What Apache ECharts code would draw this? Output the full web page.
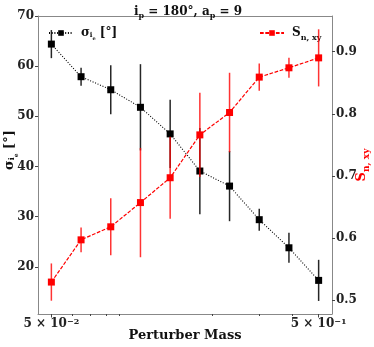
<!DOCTYPE html>
<html>
<head>
<meta charset="utf-8">
<script src="https://cdn.jsdelivr.net/npm/echarts@6/dist/echarts.min.js"></script>
<style>
  html, body { margin: 0; padding: 0; background: #fff; }
  #main { width: 374px; height: 347px; }
</style>
</head>
<body>
<div id="main"></div>
<script>
// perturber masses (log spaced)
var masses = [0.05, 0.06458, 0.0834, 0.10772, 0.13913, 0.17969, 0.23208, 0.29974, 0.38713, 0.5];
var sigmaVals = [64.4, 57.9, 55.3, 51.8, 46.5, 39.1, 36.1, 29.4, 23.8, 17.3];
var sigmaErr = [2.8, 1.8, 4.9, 8.6, 6.8, 8.6, 7.0, 2.2, 3.0, 4.1];
var snVals = [0.529, 0.597, 0.618, 0.657, 0.697, 0.766, 0.802, 0.859, 0.874, 0.890];
var snErr = [0.030, 0.020, 0.046, 0.088, 0.066, 0.068, 0.064, 0.022, 0.016, 0.046];

var xMajorTicks = [0.05, 0.5];
var xMinorTicks = [0.06, 0.07, 0.08, 0.09, 0.2, 0.3, 0.4];
var leftTicks = [20, 30, 40, 50, 60, 70];
var rightTicks = [0.5, 0.6, 0.7, 0.8, 0.9];

var xMin = 0.04456, xMax = 0.561;
var leftMin = 10.6, leftMax = 70;
var rightMin = 0.4776, rightMax = 0.9574;

var FONT = 'DejaVu Serif';
var lg = function (v) { return Math.log10(v); };

function pts(vals) {
  return vals.map(function (v, i) { return [lg(masses[i]), v]; });
}
function bars(vals, errs) {
  return vals.map(function (v, i) { return [lg(masses[i]), v - errs[i], v + errs[i]]; });
}

function errBar(color) {
  return function (params, api) {
    var a = api.coord([api.value(0), api.value(1)]);
    var b = api.coord([api.value(0), api.value(2)]);
    return {
      type: 'line',
      shape: { x1: a[0], y1: a[1], x2: b[0], y2: b[1] },
      style: { stroke: color, lineWidth: 1.5 }
    };
  };
}

function richSet(size, color) {
  return {
    b: { fontFamily: FONT, fontWeight: 'bold', fontSize: size, lineHeight: size + 5, color: color },
    i: { fontFamily: FONT, fontWeight: 'bold', fontSize: size - 5, verticalAlign: 'bottom', padding: [0, 0, 3, 0], color: color },
    e: { fontFamily: FONT, fontWeight: 'bold', fontSize: size - 7, verticalAlign: 'bottom', color: color },
    sub: { fontFamily: FONT, fontWeight: 'bold', fontSize: size - 4, verticalAlign: 'bottom', color: color }
  };
}

var chart = echarts.init(document.getElementById('main'));

var option = {
  animation: false,
  title: {
    text: '{b|i}{sub|p}{b| = 180°, a}{sub|p}{b| = 9}',
    left: 183,
    top: -2,
    textAlign: 'center',
    textStyle: { rich: richSet(12, '#111') }
  },
  grid: {
    left: 38, right: 42, top: 16, bottom: 33,
    outerBoundsMode: 'none'
  },
  legend: [
    {
      data: ['sigma'],
      left: 43, top: 22,
      itemWidth: 24, itemHeight: 7,
      formatter: function () { return '{b|σ}{i|i}{e|e}{b| [°]}'; },
      textStyle: { rich: richSet(12, '#111'), padding: [0, 0, 0, 3] }
    },
    {
      data: ['sn'],
      left: 254, top: 22,
      itemWidth: 24, itemHeight: 7,
      formatter: function () { return '{b|S}{sub|n, xy}'; },
      textStyle: { rich: richSet(12, '#111'), padding: [0, 0, 0, 3] }
    }
  ],
  xAxis: [
    {
      type: 'value',
      position: 'bottom',
      min: lg(xMin), max: lg(xMax),
      axisLine: { show: true, lineStyle: { color: '#888' } },
      splitLine: { show: false },
      axisTick: { customValues: xMajorTicks.map(lg), length: 3.5, lineStyle: { color: '#444' } },
      axisLabel: {
        customValues: xMajorTicks.map(lg),
        margin: 4,
        color: '#222',
        fontFamily: FONT, fontWeight: 'bold', fontSize: 12,
        formatter: function (v) {
          var e = Math.floor(v + 1e-9);
          var m = Math.round(Math.pow(10, v - e));
          return m + ' × 10{sup|−' + (-e) + '}';
        },
        rich: {
          sup: { fontFamily: FONT, fontWeight: 'bold', fontSize: 8, verticalAlign: 'top', color: '#222' }
        }
      },
      name: 'Perturber Mass',
      nameLocation: 'middle',
      nameMoveOverlap: false,
      nameGap: 15,
      nameTextStyle: { fontFamily: FONT, fontWeight: 'bold', fontSize: 13, color: '#111' }
    },
    {
      // minor ticks only
      type: 'value',
      position: 'bottom',
      offset: 0,
      min: lg(xMin), max: lg(xMax),
      axisLine: { show: false },
      splitLine: { show: false },
      axisLabel: { show: false },
      axisTick: { customValues: xMinorTicks.map(lg), length: 2, lineStyle: { color: '#444' } }
    },
    {
      // top frame line
      type: 'value',
      position: 'top',
      offset: 0,
      min: lg(xMin), max: lg(xMax),
      axisLine: { show: true, lineStyle: { color: '#888' } },
      splitLine: { show: false },
      axisLabel: { show: false },
      axisTick: { show: false }
    }
  ],
  yAxis: [
    {
      type: 'value',
      position: 'left',
      min: leftMin, max: leftMax,
      axisLine: { show: true, lineStyle: { color: '#888' } },
      splitLine: { show: false },
      axisTick: { customValues: leftTicks, length: 3, lineStyle: { color: '#444' } },
      axisLabel: {
        customValues: leftTicks, margin: 4, color: '#222',
        fontFamily: FONT, fontWeight: 'bold', fontSize: 12
      },
      name: '{b|σ}{i|i}{e|e}{b| [°]}',
      nameLocation: 'middle',
      nameMoveOverlap: false,
      nameRotate: 90,
      nameGap: 19,
      nameTextStyle: { rich: richSet(13, '#111'), padding: [0, 0, 0, 30] }
    },
    {
      type: 'value',
      position: 'right',
      offset: 0,
      min: rightMin, max: rightMax,
      axisLine: { show: true, lineStyle: { color: '#888' } },
      splitLine: { show: false },
      axisTick: { customValues: rightTicks, length: 3, lineStyle: { color: '#444' } },
      axisLabel: {
        customValues: rightTicks, margin: 4, color: '#222',
        fontFamily: FONT, fontWeight: 'bold', fontSize: 12,
        formatter: function (v) { return v.toFixed(1); }
      },
      name: '{b|S}{sub|n, xy}',
      nameLocation: 'middle',
      nameMoveOverlap: false,
      nameRotate: 90,
      nameGap: 21,
      nameTextStyle: { rich: richSet(13, '#ff0000') }
    }
  ],
  series: [
    {
      name: 'sigma_err',
      type: 'custom',
      xAxisIndex: 0, yAxisIndex: 0,
      renderItem: errBar('rgba(0,0,0,0.85)'),
      encode: { x: 0, y: [1, 2] },
      data: bars(sigmaVals, sigmaErr),
      z: 2, silent: true
    },
    {
      name: 'sigma',
      type: 'line',
      xAxisIndex: 0, yAxisIndex: 0,
      data: pts(sigmaVals),
      symbol: 'rect', symbolSize: 7,
      itemStyle: { color: '#000' },
      lineStyle: { color: '#000', width: 1.1, type: [1, 1.7] },
      z: 3
    },
    {
      name: 'sn_err',
      type: 'custom',
      xAxisIndex: 0, yAxisIndex: 1,
      renderItem: errBar('rgba(255,0,0,0.8)'),
      encode: { x: 0, y: [1, 2] },
      data: bars(snVals, snErr),
      z: 4, silent: true
    },
    {
      name: 'sn',
      type: 'line',
      xAxisIndex: 0, yAxisIndex: 1,
      data: pts(snVals),
      symbol: 'rect', symbolSize: 7,
      itemStyle: { color: '#ff0000' },
      lineStyle: { color: '#ff0000', width: 1.2, type: [3.7, 1.6] },
      z: 5
    }
  ]
};

chart.setOption(option);
window.addEventListener('resize', function () {
  chart.resize();
});
</script>
</body>
</html>
